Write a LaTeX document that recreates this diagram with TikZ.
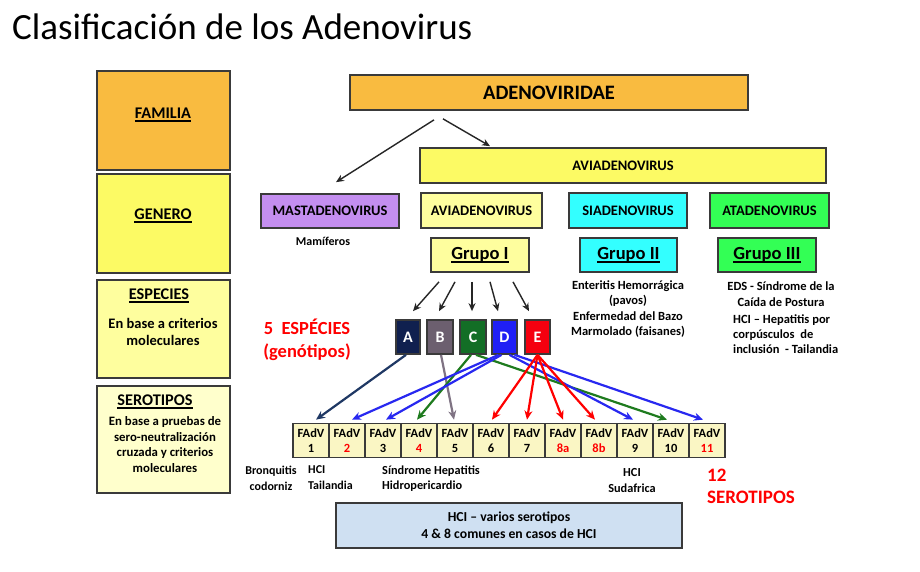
\documentclass[tikz,border=0pt]{standalone}
\usepackage{fontspec}
\setmainfont{Carlito}
\usetikzlibrary{arrows.meta,calc}
\definecolor{corange}{HTML}{F9BB40}
\definecolor{cyel}{HTML}{FCFA64}
\definecolor{cpale}{HTML}{FEFE9E}
\definecolor{cpaler}{HTML}{FFFFCC}
\definecolor{ccell}{HTML}{FAF6C4}
\definecolor{cpurple}{HTML}{C48EF0}
\definecolor{ccyan}{HTML}{33FFFF}
\definecolor{cgreen}{HTML}{33FF55}
\definecolor{cblue}{HTML}{CFE0F2}
\definecolor{spA}{HTML}{10204F}
\definecolor{spB}{HTML}{6C5F6F}
\definecolor{spC}{HTML}{136E26}
\definecolor{spD}{HTML}{1F1FF5}
\definecolor{spE}{HTML}{F5000F}
\definecolor{arA}{HTML}{1F3864}
\definecolor{arB}{HTML}{7F7383}
\definecolor{arC}{HTML}{1E7B1E}
\definecolor{arD}{HTML}{2828F0}
\definecolor{arE}{HTML}{FF0000}
\definecolor{cred}{HTML}{FF0000}
\definecolor{bord}{HTML}{3A3A3A}
\newcommand\uln[1]{\leavevmode\setbox0\hbox{#1}\rlap{\vrule height -1.6pt depth 3.0pt width \wd0}\box0}
\tikzset{
  box/.style={draw=bord, line width=1.7pt, inner sep=0pt},
  hdr/.style={font=\bfseries\fontsize{16.3}{19}\selectfont, inner sep=0pt},
  gen/.style={box, font=\bfseries\fontsize{14.5}{17}\selectfont},
  grp/.style={box, font=\bfseries\fontsize{18.5}{22}\selectfont, minimum width=98, minimum height=34},
  small/.style={font=\bfseries\fontsize{12.5}{15.6}\selectfont, inner sep=0pt, align=center},
  species/.style={box, text=white, font=\bfseries\fontsize{16}{19}\selectfont, minimum height=34},
  cell/.style={box, fill=ccell, minimum width=36, minimum height=34, align=center, font=\bfseries\fontsize{12.5}{15}\selectfont},
  blk/.style={-{Stealth[length=8pt,width=7pt]}, line width=1.4pt, draw=black!85},
  col/.style={-{Stealth[length=9pt,width=8pt]}, line width=2.2pt},
}
\begin{document}
\begin{tikzpicture}[x=1pt,y=-1pt]
\useasboundingbox (0,0) rectangle (920,571);
\fill[white] (0,0) rectangle (920,571);

% title
\node[anchor=base west, inner sep=0pt, font=\fontsize{37}{40}\selectfont] (title) at (12,39) {Clasificación de los Adenovirus};

% left column
\node[box, fill=corange, minimum width=133, minimum height=99] (fam) at (163.5,120.5) {};
\node[hdr] (famt) at (163,115) {\uln{FAMILIA}};
\node[box, fill=cyel, minimum width=133, minimum height=99] (gen) at (163.5,223.5) {};
\node[hdr] (gent) at (163,216) {\uln{GENERO}};
\node[box, fill=cpale, minimum width=133, minimum height=98] (esp) at (163.5,329) {};
\node[hdr] (espt) at (159,296) {\uln{ESPECIES}};
\node[inner sep=0pt, align=center, font=\bfseries\fontsize{14.5}{17}\selectfont] (espd) at (163,331.5) {En base a criterios\\moleculares};
\node[box, fill=cpaler, minimum width=133, minimum height=107] (ser) at (163.5,439.5) {};
\node[hdr] (sert) at (155,402) {\uln{SEROTIPOS}};
\node[inner sep=0pt, align=center, font=\bfseries\fontsize{12.8}{15.7}\selectfont] (serd) at (165,444.5) {En base a pruebas de\\sero-neutralización\\cruzada y criterios\\moleculares};

% family / genera
\node[box, fill=corange, minimum width=398, minimum height=35, font=\bfseries\fontsize{20.5}{24}\selectfont] (adeno) at (549,92.5) {ADENOVIRIDAE};
\node[gen, fill=cyel, minimum width=406, minimum height=35] (avibig) at (623,165.5) {AVIADENOVIRUS};
\node[gen, fill=cpurple, minimum width=138, minimum height=34] (mast) at (330,211) {MASTADENOVIRUS};
\node[gen, fill=cpale, minimum width=121, minimum height=35] (avi) at (481.5,210.5) {AVIADENOVIRUS};
\node[gen, fill=ccyan, minimum width=118, minimum height=35] (sia) at (628,210.5) {SIADENOVIRUS};
\node[gen, fill=cgreen, minimum width=119, minimum height=35] (ata) at (769.5,210.5) {ATADENOVIRUS};

\node[small, font=\bfseries\fontsize{12}{15}\selectfont] (mam) at (323,241) {Mamíferos};

% groups
\node[grp, fill=cpale] (g1) at (480,255) {\uln{Grupo I}};
\node[grp, fill=ccyan, minimum width=97] (g2) at (628.5,255) {\uln{Grupo II}};
\node[grp, fill=cgreen] (g3) at (767,255) {\uln{Grupo III}};

\node[small] (g2d) at (628,309) {Enteritis Hemorrágica\\(pavos)\\Enfermedad del Bazo\\Marmolado (faisanes)};
\node[small] (g3d) at (781,294) {EDS - Síndrome de la\\Caída de Postura};
\node[small, align=left, anchor=north west, font=\bfseries\fontsize{12.5}{15}\selectfont] (g3e) at (733,315) {HCI – Hepatitis por\\corpúsculos\ \ de\\inclusión\ \ - Tailandia};

% arrows family -> genera
\draw[blk] ([xshift=-115pt,yshift=-9pt]adeno.south) -- ([xshift=6pt,yshift=11pt]mast.north);
\draw[blk] ([xshift=-106pt,yshift=-8pt]adeno.south) -- ([xshift=-133pt,yshift=1pt]avibig.north);

% species
\node[species, fill=spA, minimum width=24] (A) at (408,337) {A};
\node[species, fill=spB, minimum width=26] (B) at (440,337) {B};
\node[species, fill=spC, minimum width=26] (C) at (473,337) {C};
\node[species, fill=spD, minimum width=25] (D) at (504.5,337) {D};
\node[species, fill=spE, minimum width=25] (E) at (537.5,337) {E};

\node[inner sep=0pt, align=center, text=cred, font=\bfseries\fontsize{18.5}{23}\selectfont] (spl) at (307,340) {5\ \ ESPÉCIES\\(genótipos)};

% group I -> species
\draw[blk] ([xshift=-41pt,yshift=-9pt]g1.south) -- ([xshift=5pt,yshift=8pt]A.north);
\draw[blk] ([xshift=-25pt,yshift=-9pt]g1.south) -- ([xshift=-1pt,yshift=8pt]B.north);
\draw[blk] ([xshift=-8pt,yshift=-9pt]g1.south) -- ([xshift=-1pt,yshift=8pt]C.north);
\draw[blk] ([xshift=10pt,yshift=-9pt]g1.south) -- ([xshift=-6.5pt,yshift=8pt]D.north);
\draw[blk] ([xshift=33pt,yshift=-9pt]g1.south) -- ([xshift=-8.5pt,yshift=8pt]E.north);

% serotype cells
\foreach \i/\nm/\lab/\clr in {0/s1/1/black,1/s2/2/cred,2/s3/3/black,3/s4/4/cred,4/s5/5/black,5/s6/6/black,6/s7/7/black,7/s8a/8a/cred,8/s8b/8b/cred,9/s9/9/black,10/s10/10/black,11/s11/11/cred}{
  \node[cell] (\nm) at ({311+36*\i},440.5) {FAdV\\\textcolor{\clr}{\lab}};
}

% species -> serotypes
\draw[col, draw=arA] ([xshift=-2pt]A.south) -- ([xshift=5pt,yshift=3pt]s1.north);
\draw[col, draw=arB] ([xshift=1pt]B.south) -- ([xshift=-1pt,yshift=3pt]s5.north);
\draw[col, draw=arC] ([xshift=-2pt]C.south) -- ([xshift=-2pt,yshift=3pt]s4.north);
\draw[col, draw=arC] ([xshift=3pt]C.south) -- ([xshift=-4pt,yshift=3pt]s10.north);
\draw[col, draw=arD] ([xshift=-6pt]D.south) -- ([xshift=5pt,yshift=3pt]s2.north);
\draw[col, draw=arD] ([xshift=-3pt]D.south) -- ([xshift=3pt,yshift=3pt]s3.north);
\draw[col, draw=arD] ([xshift=5pt]D.south) -- ([xshift=-2pt,yshift=3pt]s9.north);
\draw[col, draw=arD] ([xshift=10pt]D.south) -- ([xshift=-4pt,yshift=3pt]s11.north);
\draw[col, draw=arE] (E.south) -- ([xshift=1pt,yshift=3pt]s6.north);
\draw[col, draw=arE] (E.south) -- ([yshift=3pt]s7.north);
\draw[col, draw=arE] (E.south) -- ([yshift=3pt]s8a.north);
\draw[col, draw=arE] (E.south) -- ([xshift=-4pt,yshift=3pt]s8b.north);

% labels under cells
\node[small, font=\bfseries\fontsize{12}{16}\selectfont] (bro) at (271,478) {Bronquitis\\codorniz};
\node[small, align=left, anchor=west, font=\bfseries\fontsize{12}{16}\selectfont] (hcit) at (308,478) {HCI\\Tailandia};
\node[small, align=left, anchor=west, font=\bfseries\fontsize{12.3}{15.5}\selectfont] (shp) at (382,478.5) {Síndrome Hepatitis\\Hidropericardio};
\node[small, font=\bfseries\fontsize{12.3}{15.5}\selectfont] (hcis) at (632,480.5) {HCI\\Sudafrica};
\node[inner sep=0pt, align=left, anchor=west, text=cred, font=\bfseries\fontsize{19}{21.5}\selectfont] (doce) at (707,486.5) {12\\SEROTIPOS};

% bottom box
\node[box, fill=cblue, minimum width=346, minimum height=45, align=center, font=\bfseries\fontsize{13.7}{17}\selectfont] (hci) at (509,525.5) {HCI – varios serotipos\\4 \& 8 comunes en casos de HCI};
\end{tikzpicture}
\end{document}
